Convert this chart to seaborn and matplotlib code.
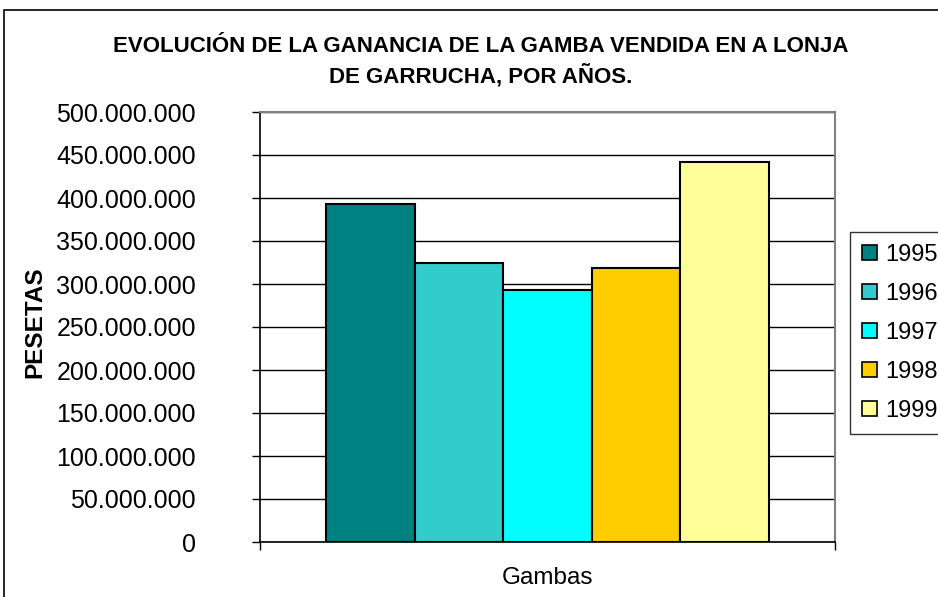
import matplotlib
matplotlib.use("Agg")
import matplotlib.pyplot as plt
import matplotlib.patches as mpatches
from matplotlib.ticker import FuncFormatter, MultipleLocator
import seaborn as sns
import pandas as pd

# data (pesetas)
categorias = ["Gambas"] * 5
anios = ["1995", "1996", "1997", "1998", "1999"]
ganancias = [393_000_000, 324_000_000, 293_000_000, 318_500_000, 442_000_000]
colores = ["#008080", "#33CCCC", "#00FFFF", "#FFCC00", "#FFFF99"]

df = pd.DataFrame({"categoria": categorias, "anio": anios, "ganancia": ganancias})

sns.set_theme(style="white")
plt.rcParams["font.family"] = ["Liberation Sans", "DejaVu Sans"]
plt.rcParams["text.color"] = "black"
plt.rcParams["axes.labelcolor"] = "black"
plt.rcParams["xtick.color"] = "black"
plt.rcParams["ytick.color"] = "black"

fig = plt.figure(figsize=(9.38, 5.97), dpi=100)
ax = fig.add_axes([260 / 938, 1 - 542 / 597, 575 / 938, 430 / 597])

sns.barplot(data=df, x="categoria", y="ganancia", hue="anio", palette=colores,
            saturation=1, width=0.77, edgecolor="black", linewidth=1.5,
            errorbar=None, legend=False, ax=ax)

ax.set_xlim(-0.5, 0.5)
ax.set_ylim(0, 500_000_000)
ax.yaxis.set_major_locator(MultipleLocator(50_000_000))
ax.yaxis.set_major_formatter(FuncFormatter(lambda v, p: f"{int(v):,}".replace(",", ".")))

ax.set_axisbelow(True)
ax.yaxis.grid(True, color="black", linewidth=1.0)
ax.xaxis.grid(False)

for side in ["top", "right"]:
    ax.spines[side].set_color("#808080")
    ax.spines[side].set_linewidth(1.5)
for side in ["left", "bottom"]:
    ax.spines[side].set_color("black")
    ax.spines[side].set_linewidth(1.2)

ax.tick_params(axis="y", which="major", left=True, length=6, width=1, color="black",
               pad=40, labelsize=18, labelcolor="black")
ax.set_xticks([0])
ax.set_xticklabels(["Gambas"], fontsize=17.5, color="black")
ax.tick_params(axis="x", which="major", length=0, pad=18)
ax.set_xticks([-0.5, 0.5], minor=True)
ax.tick_params(axis="x", which="minor", bottom=True, length=6, width=1, color="black")
ax.set_xlabel("")

ax.set_ylabel("PESETAS", fontsize=17.5, fontweight="bold", color="black")
ax.yaxis.set_label_coords(-0.372, 0.512)

fig.text(481 / 938, 1 - 62 / 597,
         "EVOLUCIÓN DE LA GANANCIA DE LA GAMBA VENDIDA EN A LONJA\nDE GARRUCHA, POR AÑOS.",
         ha="center", va="center", fontsize=16, fontweight="bold", linespacing=1.4,
         color="black")

handles = [mpatches.Patch(facecolor=c, edgecolor="black", linewidth=1.2) for c in colores]
leg = fig.legend(handles, anios, loc="upper left", bbox_to_anchor=(850 / 938, 1 - 232 / 597),
                 borderaxespad=0, fontsize=17, frameon=True, fancybox=False,
                 handlelength=0.65, handleheight=0.65, handletextpad=0.35,
                 labelspacing=0.72, borderpad=0.5, labelcolor="black")
leg.get_frame().set_edgecolor("black")
leg.get_frame().set_linewidth(1.0)

# outer chart border (cut off at right and bottom)
fig.patches.append(mpatches.Rectangle((4 / 938, -0.2), 2, 1.2 - 10 / 597,
                                      transform=fig.transFigure, fill=False,
                                      edgecolor="black", linewidth=1.2))

fig.savefig("out.png", dpi=100)
